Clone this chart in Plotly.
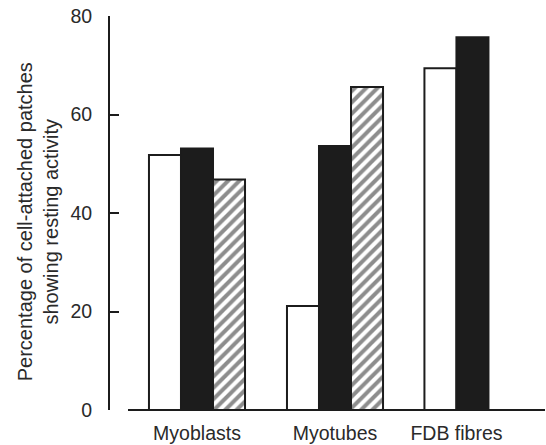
import plotly.graph_objects as go

# ---- data ----
categories = ["Myoblasts", "Myotubes", "FDB fibres"]
open_bars = [51.8, 21.1, 69.4]
filled_bars = [53.1, 53.6, 75.7]
hatched_bars = [46.8, 65.6, None]
y_ticks = [0, 20, 40, 60, 80]

# ---- layout constants ----
GROUP_X = [0.0, 1.0, 1.88]
BAR_W = 0.232
INK = "#1c1c1c"
FONT = "Liberation Sans, Arial, Helvetica, sans-serif"

series = [open_bars, filled_bars, hatched_bars]
styles = [
    dict(marker_color="white"),
    dict(marker_color=INK),
    dict(marker_color="white",
         marker_pattern=dict(shape="/", fgcolor=INK, bgcolor="white",
                             size=8, solidity=0.5)),
]

fig = go.Figure()
for si, (vals, st) in enumerate(zip(series, styles)):
    xs, ys = [], []
    for g, v in enumerate(vals):
        if v is None:
            continue
        present = [s[g] is not None for s in series]
        n = sum(present)
        slot = sum(present[:si])
        xs.append(GROUP_X[g] + (slot - (n - 1) / 2) * BAR_W)
        ys.append(v)
    fig.add_trace(go.Bar(x=xs, y=ys, width=BAR_W,
                         marker_line=dict(color=INK, width=2),
                         showlegend=False, **st))

fig.update_layout(
    width=546, height=445,
    margin=dict(l=110, r=1, t=16, b=35),
    paper_bgcolor="white", plot_bgcolor="white",
    font=dict(family=FONT, size=19.5, color="#2a2a2a"),
    xaxis=dict(range=[-0.6304, 2.5217], tickvals=GROUP_X, ticktext=categories,
               showgrid=False, zeroline=False, showline=False, ticks="",
               ticklabelstandoff=9, tickfont=dict(size=19.5, color="#2a2a2a")),
    yaxis=dict(range=[0, 80], tickvals=y_ticks, showgrid=False, zeroline=False,
               showline=True, linecolor=INK, linewidth=2,
               ticks="inside", ticklen=9, tickwidth=2, tickcolor=INK,
               ticklabelstandoff=12, tickfont=dict(size=19.5, color="#2a2a2a")),
    shapes=[dict(type="line", xref="paper", yref="paper",
                 x0=0.0414, x1=1.0, y0=0, y1=0,
                 line=dict(color=INK, width=2))],
    annotations=[dict(text="Percentage of cell-attached patches<br>showing resting activity",
                      xref="paper", yref="paper", x=-0.165, y=0.477,
                      xanchor="center", yanchor="middle", textangle=-90,
                      showarrow=False, font=dict(size=20, color="#2a2a2a"))],
)

fig.write_html("out.html")
